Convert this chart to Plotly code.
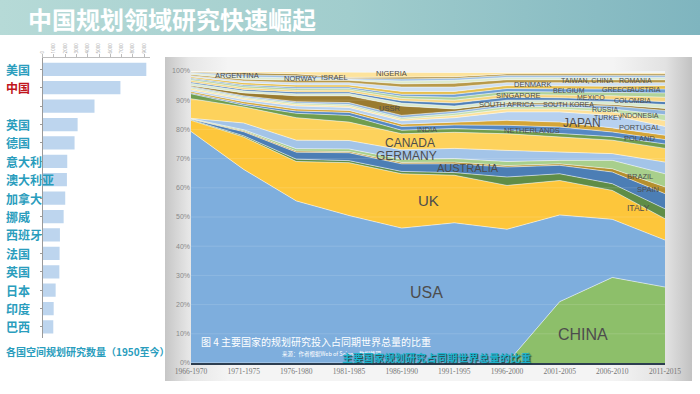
import base64
import plotly.graph_objects as go

W, H = 700, 394

# ---------------- data: left bar chart ----------------
bar_labels = ["美国", "中国", "", "英国", "德国", "意大利", "澳大利亚", "加拿大",
              "挪威", "西班牙", "法国", "英国", "日本", "印度", "巴西"]
bar_values = [9200, 6900, 4600, 3100, 2830, 2180, 2150, 2000,
              1860, 1530, 1500, 1480, 1150, 975, 940]
bar_ticks = [0, 1000, 2000, 3000, 4000, 5000, 6000, 7000, 8000, 9000]

# ---------------- data: stacked share chart ----------------
periods = ["1966-1970", "1971-1975", "1976-1980", "1981-1985", "1986-1990",
           "1991-1995", "1996-2000", "2001-2005", "2006-2010", "2011-2015"]
china = [0, 0, 0, 0, 0, 0, 0, 21.0, 29.3, 26.0]
usa = [79.3, 66.3, 55.5, 50.5, 46.2, 48.0, 45.8, 29.7, 19.9, 16.1]
uk = [3.8, 11.1, 13.5, 18.1, 18.6, 16.3, 15.0, 11.8, 9.9, 7.3]
italy = [0.2, 0.4, 0.8, 0.7, 0.8, 0.9, 2.9, 2.3, 2.3, 3.4]
australia = [0.2, 1.4, 2.4, 2.7, 2.6, 3.0, 3.4, 2.9, 4.0, 5.2]
spain = [0.1, 0.3, 0.4, 0.4, 0.5, 0.6, 0.5, 0.5, 1.1, 2.3]
brazil = [0.1, 0.4, 0.8, 0.9, 1.1, 1.2, 1.4, 1.2, 2.9, 4.5]
germany = [0.1, 2.3, 2.9, 2.9, 3.2, 3.5, 3.8, 2.9, 2.3, 4.0]
canada = [6.7, 5.5, 7.7, 6.3, 5.5, 5.5, 5.7, 5.1, 4.6, 4.7]
india = [1.7, 0.6, 1.5, 2.3, 1.2, 1.3, 1.2, 1.1, 1.2, 1.5]
netherlands = [0.3, 0.5, 0.8, 1.0, 1.3, 1.2, 1.7, 2.3, 1.6, 1.5]
france = [0.5, 0.7, 0.7, 0.7, 0.8, 1.0, 1.7, 1.7, 1.4, 1.5]
japan = [0.5, 0.7, 1.0, 1.0, 1.2, 1.5, 2.9, 3.5, 4.3, 3.0]
iran = [0.5, 0.5, 0.5, 0.5, 0.5, 0.8, 1.0, 1.0, 1.2, 2.0]
poland = [0.4, 0.4, 0.5, 0.5, 0.5, 0.7, 0.8, 0.8, 1.0, 2.0]
portugal = [0.3, 0.4, 0.5, 0.7, 0.8, 0.7, 0.7, 0.7, 1.0, 1.5]
ussr = [0.3, 1.0, 2.0, 2.3, 3.2, 0.8, 0.5, 0.5, 0.5, 0.7]
sweden = [0.8, 0.7, 0.7, 0.8, 1.0, 1.0, 1.0, 1.0, 1.0, 1.3]
south_africa = [0.4, 0.5, 0.6, 0.5, 0.8, 1.0, 1.0, 0.8, 0.8, 1.0]
singapore = [0.6, 0.6, 0.6, 0.7, 0.8, 1.0, 1.0, 1.0, 1.2, 1.5]
turkey = [0.5, 0.6, 0.6, 0.5, 0.8, 1.0, 1.0, 1.0, 1.2, 1.5]
south_korea = [0.3, 0.4, 0.5, 0.5, 0.6, 1.0, 1.0, 1.0, 1.1, 1.3]
mexico = [0.4, 0.7, 0.7, 0.7, 1.0, 1.0, 1.0, 1.0, 1.0, 1.2]
belgium = [0.4, 0.6, 0.8, 0.8, 1.5, 1.5, 1.0, 1.2, 1.2, 1.0]
denmark = [0.4, 0.6, 0.8, 0.8, 1.1, 1.3, 1.0, 1.0, 1.0, 1.0]
israel = [0.4, 0.8, 0.8, 0.2, 1.0, 1.0, 0.8, 0.8, 0.8, 0.8]
norway = [0.3, 0.7, 0.8, 0.4, 0.7, 0.7, 0.7, 0.7, 0.7, 0.7]
argentina = [0.2, 0.6, 0.6, 0.4, 0.5, 0.5, 0.5, 0.5, 0.5, 0.5]
nigeria = [0.1, 0.4, 0.6, 1.8, 1.8, 1.5, 0.5, 0.4, 0.4, 0.4]
others = [0.2, 0.3, 0.4, 0.4, 0.4, 0.5, 0.5, 0.6, 0.6, 0.6]

layers = [
    ("CHINA", china), ("USA", usa), ("UK", uk), ("ITALY", italy),
    ("AUSTRALIA", australia), ("SPAIN", spain), ("BRAZIL", brazil),
    ("GERMANY", germany), ("CANADA", canada), ("INDIA", india),
    ("NETHERLANDS", netherlands), ("FRANCE", france), ("JAPAN", japan),
    ("IRAN", iran), ("POLAND", poland), ("PORTUGAL", portugal),
    ("USSR", ussr), ("SWEDEN", sweden), ("SOUTH AFRICA", south_africa),
    ("SINGAPORE", singapore), ("TURKEY", turkey), ("SOUTH KOREA", south_korea),
    ("MEXICO", mexico), ("BELGIUM", belgium), ("DENMARK", denmark),
    ("ISRAEL", israel), ("NORWAY", norway), ("ARGENTINA", argentina),
    ("NIGERIA", nigeria), ("OTHERS", others),
]

# ---------------- styles ----------------
layer_colors = [
    "#8dbf6a", "#7eaedd", "#fdc63b", "#5f8d47", "#4c7eb5", "#b58f2c",
    "#a8cf8c", "#a3c4e8", "#fdd25c", "#6f9d4e", "#5588c4", "#d4a537",
    "#b7d1ef", "#fee199", "#c2dfac", "#8fb5de", "#9a7b30", "#d9ead0",
    "#4f80b8", "#f7d57e", "#b0d29a", "#6f9fd4", "#e6bf4e", "#cfe0f2",
    "#b89a4a", "#dcebd0", "#9dc0e3", "#a88a3a", "#fde39c", "#e9eff6",
]

TEAL = "#2a9dbd"
CJK = "Noto Sans CJK SC"
NARROW = "Liberation Sans Narrow, Arial Narrow, Liberation Sans, sans-serif"


def px_x(x):
    return x / W


def px_y(y):
    return 1 - y / H


def grad_uri(stops, horizontal=True):
    x2, y2 = ("1", "0") if horizontal else ("0", "1")
    st = "".join(f'<stop offset="{o}" stop-color="{c}"/>' for o, c in stops)
    svg = ('<svg xmlns="http://www.w3.org/2000/svg" width="100" height="100" '
           'viewBox="0 0 100 100" preserveAspectRatio="none">'
           f'<defs><linearGradient id="g" x1="0" y1="0" x2="{x2}" y2="{y2}">{st}'
           '</linearGradient></defs><rect width="100" height="100" fill="url(#g)"/></svg>')
    return "data:image/svg+xml;base64," + base64.b64encode(svg.encode()).decode()


fig = go.Figure()

# left bar chart
fig.add_trace(go.Bar(
    x=bar_values, y=list(range(len(bar_labels))), orientation="h",
    marker=dict(color="#bdd5ee", line=dict(width=0)), width=0.72,
    xaxis="x", yaxis="y", hoverinfo="skip", showlegend=False))

# stacked share chart
for i, ((name, vals), col) in enumerate(zip(layers, layer_colors)):
    kw = dict(groupnorm="percent") if i == 0 else {}
    fig.add_trace(go.Scatter(
        x=periods, y=vals, name=name, stackgroup="one", mode="lines",
        line=dict(color="rgba(255,255,255,0.75)", width=0.7),
        fillcolor=col, xaxis="x2", yaxis="y2", hoverinfo="skip",
        showlegend=False, **kw))

annotations = []

# title
annotations.append(dict(
    text="<b>中国规划领域研究快速崛起</b>", xref="paper", yref="paper",
    x=px_x(26), y=px_y(18), xanchor="left", yanchor="middle", showarrow=False,
    font=dict(family=CJK, size=24, color="white")))

# left labels
for i, lab in enumerate(bar_labels):
    if not lab:
        continue
    annotations.append(dict(
        text=f"<b>{lab}</b>", xref="paper", yref="y", x=px_x(4), y=i,
        xanchor="left", yanchor="middle", showarrow=False,
        font=dict(family=CJK, size=12, color="#c0141c" if lab == "中国" else TEAL)))

annotations.append(dict(
    text="<b>各国空间规划研究数量（1950至今）</b>", xref="paper", yref="paper",
    x=px_x(4), y=px_y(351), xanchor="left", yanchor="middle", showarrow=False,
    font=dict(family=CJK, size=10, color=TEAL)))

# country labels in share chart: (text, x index, y percent, size, anchor)
country_labels = [
    ("CZECH REPUBLIC", 0.03, 102.6, 7, "left"),
    ("SAUDI ARABIA", 7.93, 103.2, 7, "center"),
    ("ARGENTINA", 0.87, 98.3, 7.5, "center"),
    ("NORWAY", 2.07, 97.3, 7.5, "center"),
    ("ISRAEL", 2.73, 97.9, 7.5, "center"),
    ("NIGERIA", 3.8, 99.0, 7.5, "center"),
    ("USSR", 3.76, 87.0, 7.5, "center"),
    ("INDIA", 4.48, 79.8, 7.5, "center"),
    ("CANADA", 4.16, 75.3, 12, "center"),
    ("GERMANY", 4.1, 70.9, 12, "center"),
    ("AUSTRALIA", 5.26, 66.8, 11, "center"),
    ("UK", 4.5, 55.8, 15, "center"),
    ("USA", 4.48, 24.3, 16, "center"),
    ("CHINA", 7.44, 9.9, 16, "center"),
    ("NETHERLANDS", 6.47, 79.5, 7.5, "center"),
    ("JAPAN", 7.43, 82.3, 12, "center"),
    ("SOUTH AFRICA", 5.99, 88.4, 7.5, "center"),
    ("SINGAPORE", 6.21, 91.5, 7.5, "center"),
    ("DENMARK", 6.5, 95.5, 7.5, "center"),
    ("TAIWAN, CHINA", 7.51, 96.7, 7, "center"),
    ("BELGIUM", 7.18, 93.4, 7, "center"),
    ("SOUTH KOREA", 7.16, 88.5, 7, "center"),
    ("MEXICO", 7.6, 91.0, 7, "center"),
    ("ROMANIA", 8.44, 96.6, 7, "center"),
    ("NEW ZEALAND", 9.12, 98.4, 6, "center"),
    ("FINLAND", 9.15, 95.4, 7, "center"),
    ("GREECE", 8.08, 93.5, 7, "center"),
    ("AUSTRIA", 8.63, 93.6, 7, "center"),
    ("CHILE", 9.19, 93.7, 7, "center"),
    ("COLOMBIA", 8.39, 89.9, 7, "center"),
    ("MALAYSIA", 9.12, 89.8, 7, "center"),
    ("SWITZERLAND", 9.03, 87.3, 7, "center"),
    ("RUSSIA", 7.86, 86.8, 7, "center"),
    ("TURKEY", 7.93, 84.0, 7, "center"),
    ("INDONESIA", 8.52, 84.7, 7, "center"),
    ("SWEDEN", 9.15, 82.9, 7, "center"),
    ("PORTUGAL", 8.52, 80.6, 7.5, "center"),
    ("POLAND", 8.52, 77.0, 7.5, "center"),
    ("IRAN", 9.18, 76.6, 7.5, "center"),
    ("FRANCE", 9.12, 73.8, 8.5, "center"),
    ("BRAZIL", 8.52, 64.0, 7.5, "center"),
    ("SPAIN", 8.67, 59.5, 7.5, "center"),
    ("ITALY", 8.49, 53.2, 8.5, "center"),
]
for txt, xi, yv, sz, anc in country_labels:
    annotations.append(dict(
        text=txt, xref="x2", yref="y2", x=xi, y=yv, xanchor=anc, yanchor="middle",
        showarrow=False, font=dict(family=NARROW, size=sz, color="#4d4d4d")))

# captions inside chart
annotations.append(dict(
    text="图 4 主要国家的规划研究投入占同期世界总量的比重", xref="paper", yref="paper",
    x=px_x(199), y=px_y(341), xanchor="left", yanchor="middle", showarrow=False,
    font=dict(family=CJK, size=10, color="white")))
annotations.append(dict(
    text="来源：作者根据Web of Science数据整理", xref="paper", yref="paper",
    x=px_x(280), y=px_y(354), xanchor="left", yanchor="middle", showarrow=False,
    font=dict(family=CJK, size=5.5, color="white")))
annotations.append(dict(
    text="<b>主要国家规划研究占同期世界总量的比重</b>", xref="paper", yref="paper",
    x=px_x(340), y=px_y(357), xanchor="left", yanchor="middle", showarrow=False,
    font=dict(family=CJK, size=10.5, color="#1fb3cc",
              shadow="1px 1px 1px #1c3a40")))

# faint grid lines over areas
shapes = []
for g in range(10, 100, 10):
    shapes.append(dict(type="line", xref="x2 domain", yref="y2", x0=0, x1=1, y0=g, y1=g,
                       line=dict(color="rgba(255,255,255,0.13)", width=1), layer="above"))

images = [
    # title banner
    dict(source=grad_uri([(0, "#b6dad7"), (0.5, "#a1cdcd"), (1, "#7fb5bf")]),
         xref="paper", yref="paper", x=0, y=1, sizex=1, sizey=35 / H,
         xanchor="left", yanchor="top", sizing="stretch", layer="below"),
    # chart panel
    dict(source=grad_uri([(0, "#c6c6c6"), (0.045, "#e6e6e6"), (0.12, "#f4f4f4"),
                          (0.85, "#f4f4f4"), (0.95, "#e2e2e2"), (1, "#c2c2c2")]),
         xref="paper", yref="paper", x=px_x(165), y=px_y(57), sizex=(692 - 165) / W,
         sizey=(381 - 57) / H, xanchor="left", yanchor="top", sizing="stretch",
         layer="below"),
]

fig.update_layout(
    width=W, height=H, margin=dict(l=0, r=0, t=0, b=0, autoexpand=False),
    paper_bgcolor="white", plot_bgcolor="rgba(0,0,0,0)",
    showlegend=False, annotations=annotations, shapes=shapes, images=images,
    xaxis=dict(domain=[px_x(42.7), px_x(149.7)], range=[0, 9500], side="top",
               anchor="y", tickvals=bar_ticks, tickangle=-90, automargin=False,
               tickfont=dict(size=4.5, color="#9a9a9a"), showline=True,
               linecolor="#bdbdbd", linewidth=1, ticks="outside", ticklen=3,
               tickcolor="#bdbdbd", showgrid=False, zeroline=False),
    yaxis=dict(domain=[px_y(338), px_y(58.3)], range=[14.6, -0.6], anchor="x",
               tickvals=list(range(len(bar_labels))), showticklabels=False,
               automargin=False, ticks="outside", ticklen=2, tickcolor="#9a9a9a",
               showline=True, linecolor="#9a9a9a", linewidth=1, showgrid=False,
               zeroline=False),
    xaxis2=dict(domain=[px_x(191), px_x(665)], range=[0, 9], anchor="y2",
                type="category", showline=True, linecolor="#2d3e50", linewidth=1.5,
                ticks="", automargin=False,
                tickfont=dict(family="Liberation Serif", size=7.5, color="#777"),
                showgrid=False, zeroline=False),
    yaxis2=dict(domain=[px_y(363), px_y(71)], range=[0, 100], anchor="x2",
                tickvals=list(range(0, 101, 10)), automargin=False,
                ticktext=[f"{v}%" for v in range(0, 101, 10)],
                tickfont=dict(family=NARROW, size=7, color="#8a8a8a"),
                ticks="", showgrid=False, zeroline=False, showline=False),
)

fig.write_html("out.html",
               config={"displayModeBar": False, "staticPlot": True},
               post_script="document.body.style.margin='0';"
                           "document.body.style.overflow='hidden';")
